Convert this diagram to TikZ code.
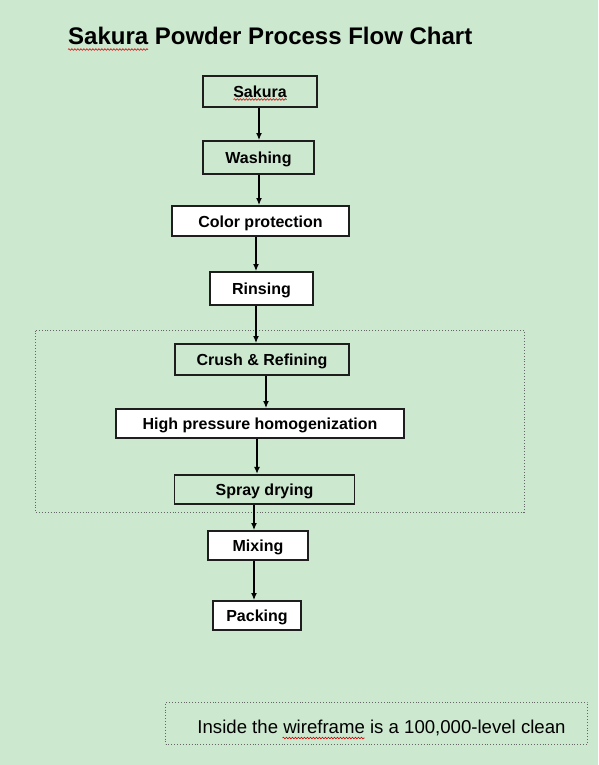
\documentclass[tikz,border=0pt]{standalone}
\usepackage{fontspec}
\setmainfont{Liberation Sans}
\usetikzlibrary{arrows.meta,decorations.pathmorphing}
\definecolor{bg}{RGB}{204,232,207}
\definecolor{edge}{RGB}{30,30,30}
\tikzset{
  box/.style={draw=edge, line width=1.9pt, inner sep=0pt, align=center,
    text height=12pt, text depth=0pt,
    font=\bfseries\fontsize{16}{18}\selectfont},
  gbox/.style={box, fill=bg},
  wbox/.style={box, fill=white},
  arr/.style={line width=1.3pt, -{Latex[length=7pt,width=6pt]}},
  frame/.style={draw=black!60, line width=0.9pt, dotted},
  squiggle/.style={draw=red!85!black, line width=0.6pt,
    decorate, decoration={snake, amplitude=0.8pt, segment length=3pt}}
}
\begin{document}
\begin{tikzpicture}[x=1pt,y=-1pt]
\fill[bg] (0,0) rectangle (598,765);
\useasboundingbox (0,0) rectangle (598,765);

\node[anchor=base west, inner sep=0pt, font=\bfseries\fontsize{24}{28}\selectfont] (title) at (68,45) {Sakura Powder Process Flow Chart};
\coordinate (t1) at (68,49.5);
\coordinate (t2) at (148,49.5);
\draw[squiggle] (t1) -- (t2);

% dotted wireframe
\coordinate (fa) at (35.5,330.5);
\coordinate (fb) at (524,512.5);
\draw[frame] (fa) rectangle (fb);

\node[gbox, minimum width=114pt, minimum height=31pt] (sakura) at (260,91.5) {Sakura};
\node[gbox, minimum width=111pt, minimum height=33pt] (washing) at (258.5,157.5) {Washing};
\node[wbox, minimum width=177pt, minimum height=30pt] (color) at (260.5,221) {Color protection};
\node[wbox, minimum width=103pt, minimum height=33pt] (rinsing) at (261.5,288.5) {Rinsing};
\node[gbox, minimum width=174pt, minimum height=31pt] (crush) at (262,359.5) {Crush \& Refining};
\node[wbox, minimum width=288pt, minimum height=29pt] (hph) at (260,423.5) {High pressure homogenization};
\node[gbox, minimum width=180pt, minimum height=29pt] (spray) at (264.5,489.3) {Spray drying};
\node[wbox, minimum width=100pt, minimum height=29pt] (mixing) at (258,545.5) {Mixing};
\node[wbox, minimum width=88pt, minimum height=29pt] (packing) at (257,615.5) {Packing};

\coordinate (s1) at (233.5,99.5);
\coordinate (s2) at (286.5,99.5);
\draw[squiggle] (s1) -- (s2);

\draw[arr] ([xshift=-1pt]sakura.south) -- ([xshift=-1pt]sakura.south |- washing.north);
\draw[arr] ([xshift=0.5pt]washing.south) -- ([xshift=0.5pt]washing.south |- color.north);
\draw[arr] ([xshift=-4.5pt]color.south) -- ([xshift=-4.5pt]color.south |- rinsing.north);
\draw[arr] ([xshift=-5.5pt]rinsing.south) -- ([xshift=-5.5pt]rinsing.south |- crush.north);
\draw[arr] ([xshift=4pt]crush.south) -- ([xshift=4pt]crush.south |- hph.north);
\draw[arr] ([xshift=-3pt]hph.south) -- ([xshift=-3pt]hph.south |- spray.north);
\draw[arr] ([xshift=-10.5pt]spray.south) -- ([xshift=-10.5pt]spray.south |- mixing.north);
\draw[arr] ([xshift=-4pt]mixing.south) -- ([xshift=-4pt]mixing.south |- packing.north);

% note
\node[frame, minimum width=422pt, minimum height=42pt, inner sep=0pt] (notebox) at (376.5,723.3) {};
\node[inner sep=0pt, font=\fontsize{18.6}{22}\selectfont] (note) at (381.5,728) {Inside the wireframe is a 100,000-level clean};
\coordinate (w1) at (282.5,738);
\coordinate (w2) at (364.5,738);
\draw[squiggle] (w1) -- (w2);
\end{tikzpicture}
\end{document}
